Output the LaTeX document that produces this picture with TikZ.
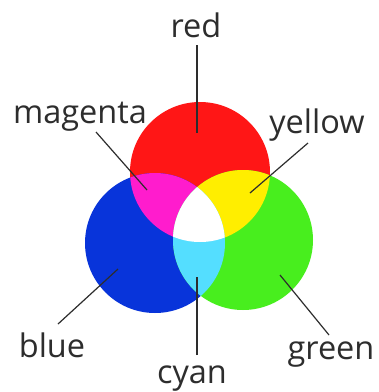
\documentclass[tikz,border=0pt]{standalone}
\usepackage{fontspec}
\setmainfont{Open Sans}
\definecolor{cred}{RGB}{255,22,22}
\definecolor{cblue}{RGB}{8,52,218}
\definecolor{cgreen}{RGB}{72,238,30}
\definecolor{cmag}{RGB}{255,28,205}
\definecolor{cyel}{RGB}{255,238,0}
\definecolor{ccyan}{RGB}{84,222,255}
\definecolor{ink}{RGB}{45,45,45}
\tikzset{
  lab/.style={anchor=base, inner sep=0pt, text=ink, font=\fontsize{32.5}{32.5}\selectfont},
  lead/.style={draw=ink, line width=1.2pt}
}
\begin{document}
\begin{tikzpicture}[x=1pt,y=-1pt]
\useasboundingbox (0,0) rectangle (379,392);
\fill[white] (0,0) rectangle (379,392);
% circles
\fill[cred] (200,172) circle (70);
\fill[cblue] (155,243) circle (70);
\fill[cgreen] (243,240) circle (70);
\begin{scope}
  \clip (200,172) circle (70);
  \fill[cmag] (155,243) circle (70);
  \fill[cyel] (243,240) circle (70);
\end{scope}
\begin{scope}
  \clip (155,243) circle (70);
  \fill[ccyan] (243,240) circle (70);
  \clip (243,240) circle (70);
  \fill[white] (200,172) circle (70);
\end{scope}
% labels
\node[lab] (red) at (196,37) {red};
\node[lab] (magenta) at (80,123) {magenta};
\node[lab] (yellow) at (317,133) {yellow};
\node[lab] (blue) at (52,357) {blue};
\node[lab] (cyan) at (192,383) {cyan};
\node[lab] (green) at (331,359) {green};
% leader ends
\coordinate (r1) at (197,45);  \coordinate (r2) at (197,133);
\coordinate (m1) at (96,132);  \coordinate (m2) at (147,190);
\coordinate (y1) at (308,143); \coordinate (y2) at (250,193);
\coordinate (b1) at (58,324);  \coordinate (b2) at (118,269);
\coordinate (c1) at (197,355); \coordinate (c2) at (197,277);
\coordinate (g1) at (329,335); \coordinate (g2) at (280,275);
\draw[lead] (r1) -- (r2);
\draw[lead] (m1) -- (m2);
\draw[lead] (y1) -- (y2);
\draw[lead] (b1) -- (b2);
\draw[lead] (c1) -- (c2);
\draw[lead] (g1) -- (g2);
\end{tikzpicture}
\end{document}
